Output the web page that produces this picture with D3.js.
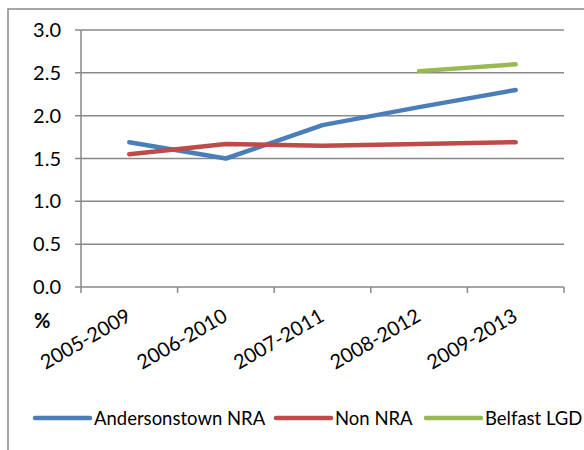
<!DOCTYPE html>
<html>
<head>
<meta charset="utf-8">
<script src="https://cdn.jsdelivr.net/npm/d3@7"></script>
<style>
  body { margin: 0; background: #fff; }
  text { font-family: Lato, "Open Sans", sans-serif; fill: #000; }
</style>
</head>
<body>
<div id="chart"></div>
<script>
// Data.
const periods = ['2005-2009', '2006-2010', '2007-2011', '2008-2012', '2009-2013'];
const andersonstown = [1.69, 1.50, 1.89, 2.10, 2.30];
const nonNra = [1.55, 1.67, 1.65, 1.67, 1.69];
const belfastLgd = [null, null, null, 2.52, 2.60];
const yTicks = [0, 0.5, 1.0, 1.5, 2.0, 2.5, 3.0];

const series = [
  {name: 'Andersonstown NRA', values: andersonstown, color: '#4a7ebb'},
  {name: 'Non NRA', values: nonNra, color: '#be4b48'},
  {name: 'Belfast LGD', values: belfastLgd, color: '#98b954'}
];

const width = 584, height = 450;
const plot = {left: 81, right: 564, top: 30, bottom: 287};
const gridColor = '#898989';

let svg = d3.select('#chart')
  .append('svg')
    .attr('width', width)
    .attr('height', height);

// outer chart frame (cut off at right and bottom)
svg.append('path')
  .attr('d', 'M8,' + height + 'V9H' + width)
  .attr('fill', 'none')
  .attr('stroke', gridColor)
  .attr('stroke-width', 1.5);

let x = d3.scaleBand().domain(periods).range([plot.left, plot.right]);
let y = d3.scaleLinear().domain([0, 3]).range([plot.bottom, plot.top]);

// gridlines
svg.append('g')
  .selectAll('line')
  .data(yTicks)
  .enter().append('line')
    .attr('x1', plot.left - 6)
    .attr('x2', plot.right)
    .attr('y1', (d) => y(d))
    .attr('y2', (d) => y(d))
    .attr('stroke', gridColor)
    .attr('stroke-width', 1.5);

// y axis line
svg.append('line')
  .attr('x1', plot.left).attr('x2', plot.left)
  .attr('y1', plot.top).attr('y2', plot.bottom)
  .attr('stroke', gridColor)
  .attr('stroke-width', 1.5);

// y tick labels
svg.append('g')
  .selectAll('text')
  .data(yTicks)
  .enter().append('text')
    .attr('x', 61)
    .attr('y', (d) => y(d) + 7)
    .attr('text-anchor', 'end')
    .style('font-size', '20px')
    .text((d) => d3.format('.1f')(d));

// x axis ticks at category boundaries
let bounds = periods.map((p) => x(p)).concat([plot.right]);
svg.append('g')
  .selectAll('line')
  .data(bounds)
  .enter().append('line')
    .attr('x1', (d) => d).attr('x2', (d) => d)
    .attr('y1', plot.bottom).attr('y2', plot.bottom + 6)
    .attr('stroke', gridColor)
    .attr('stroke-width', 1.5);

// x tick labels, rotated
svg.append('g')
  .selectAll('text')
  .data(periods)
  .enter().append('text')
    .attr('text-anchor', 'end')
    .style('font-size', '20px')
    .attr('transform', (d) => {
      return 'translate(' + (x(d) + x.bandwidth() / 2 + 3) + ',' + 320 + ') rotate(-30)';
    })
    .text((d) => d);

// "%" axis label
svg.append('text')
  .attr('x', 34)
  .attr('y', 328)
  .style('font-size', '20px')
  .style('font-weight', 'bold')
  .text('%');

// series lines
let line = d3.line()
  .defined((d) => d !== null)
  .x((d, i) => x(periods[i]) + x.bandwidth() / 2)
  .y((d) => y(d));

svg.append('g')
  .selectAll('path')
  .data(series)
  .enter().append('path')
    .attr('fill', 'none')
    .attr('stroke', (d) => d.color)
    .attr('stroke-width', 4.5)
    .attr('stroke-linecap', 'round')
    .attr('stroke-linejoin', 'round')
    .attr('d', (d) => line(d.values));

// legend
const legendX = [35, 276, 426];
let legend = svg.append('g')
  .selectAll('g')
  .data(series)
  .enter().append('g')
    .attr('transform', (d, i) => 'translate(' + legendX[i] + ',418)');

legend.append('line')
  .attr('x1', 0).attr('x2', 55)
  .attr('stroke', (d) => d.color)
  .attr('stroke-width', 4.5)
  .attr('stroke-linecap', 'round');

legend.append('text')
  .attr('x', 59)
  .attr('y', 6.5)
  .style('font-size', '18.5px')
  .text((d) => d.name);
</script>
</body>
</html>
